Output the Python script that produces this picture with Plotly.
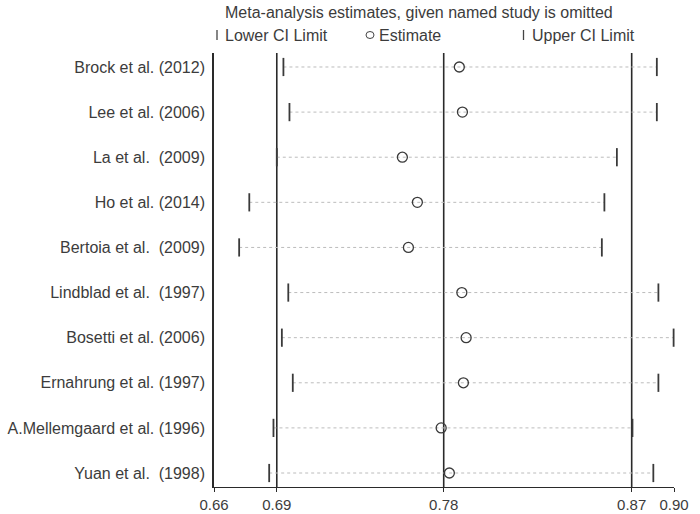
import plotly.graph_objects as go

# ---------------- data ----------------
studies = [
    "Brock et al. (2012)",
    "Lee et al. (2006)",
    "La et al.  (2009)",
    "Ho et al. (2014)",
    "Bertoia et al.  (2009)",
    "Lindblad et al.  (1997)",
    "Bosetti et al. (2006)",
    "Ernahrung et al. (1997)",
    "A.Mellemgaard et al. (1996)",
    "Yuan et al.  (1998)",
]
lower_ci = [0.6954, 0.6985, 0.6920, 0.6779, 0.6727, 0.6979, 0.6946, 0.7002, 0.6903, 0.6881]
estimate = [0.7856, 0.7872, 0.7564, 0.7641, 0.7595, 0.7869, 0.7891, 0.7877, 0.7763, 0.7805]
upper_ci = [0.8869, 0.8869, 0.8664, 0.8600, 0.8587, 0.8877, 0.8955, 0.8877, 0.8744, 0.8851]

overall_lower = 0.6920
overall_estimate = 0.7776
overall_upper = 0.8740
axis_min = 0.6598
axis_max = 0.8957

tick_values = [axis_min, overall_lower, overall_estimate, overall_upper, axis_max]
tick_labels = ["0.66", "0.69", "0.78", "0.87", "0.90"]

title_text = "Meta-analysis estimates, given named study is omitted"
legend_labels = ["Lower CI Limit", "Estimate", "Upper CI Limit"]

# ---------------- figure ----------------
FONT = "Liberation Sans, Arial, sans-serif"
W, H = 700, 514
ML, MR, MT, MB = 214, 26, 53, 27
PW, PH = W - ML - MR, H - MT - MB
TXT = "#3c3c3c"

fig = go.Figure()

# dotted connectors lower -> upper
seg_x, seg_y = [], []
for s, lo, up in zip(studies, lower_ci, upper_ci):
    seg_x += [lo, up, None]
    seg_y += [s, s, None]
fig.add_trace(go.Scatter(
    x=seg_x, y=seg_y, mode="lines",
    line=dict(color="#bcbcbc", width=1, dash="dot"),
    hoverinfo="skip", showlegend=False, cliponaxis=False,
))

fig.add_trace(go.Scatter(
    x=lower_ci, y=studies, mode="markers", name=legend_labels[0],
    marker=dict(symbol="line-ns", size=13, line=dict(color="#3a3a3a", width=1.8)),
    showlegend=False, cliponaxis=False,
))
fig.add_trace(go.Scatter(
    x=estimate, y=studies, mode="markers", name=legend_labels[1],
    marker=dict(symbol="circle-open", size=10, color="#3a3a3a", line=dict(width=1.3)),
    showlegend=False, cliponaxis=False,
))
fig.add_trace(go.Scatter(
    x=upper_ci, y=studies, mode="markers", name=legend_labels[2],
    marker=dict(symbol="line-ns", size=13, line=dict(color="#3a3a3a", width=1.8)),
    showlegend=False, cliponaxis=False,
))

# reference lines for overall estimate and CI
for v in (overall_lower, overall_estimate, overall_upper):
    fig.add_shape(type="line", xref="x", yref="paper", x0=v, x1=v, y0=0, y1=1,
                  line=dict(color="#2a2a2a", width=1.6), layer="below")

# helpers: pixel -> paper coords
def px(xp):
    return (xp - ML) / PW

def py(yp):
    return (H - MB - yp) / PH

# legend row (symbols as shapes, labels as text)
leg_y = 35
fig.add_shape(type="line", xref="paper", yref="paper", x0=px(217), x1=px(217),
              y0=py(leg_y + 5), y1=py(leg_y - 5), line=dict(color="#444", width=1.3))
fig.add_shape(type="circle", xref="paper", yref="paper", x0=px(366), x1=px(374),
              y0=py(leg_y + 3.5), y1=py(leg_y - 3.5), line=dict(color="#444", width=1))
fig.add_shape(type="line", xref="paper", yref="paper", x0=px(523.5), x1=px(523.5),
              y0=py(leg_y + 5), y1=py(leg_y - 5), line=dict(color="#444", width=1.3))
for xpos, lab in zip([223, 377, 530], legend_labels):
    fig.add_annotation(text=lab, xref="paper", yref="paper", x=px(xpos), y=py(leg_y),
                       xanchor="left", yanchor="middle", showarrow=False,
                       font=dict(family=FONT, size=16, color=TXT))

fig.add_annotation(text=title_text, xref="paper", yref="paper", x=px(419), y=py(13),
                   xanchor="center", yanchor="middle", showarrow=False,
                   font=dict(family=FONT, size=16, color=TXT))

fig.update_layout(
    width=W, height=H,
    margin=dict(l=ML, r=MR, t=MT, b=MB, pad=0, autoexpand=False),
    paper_bgcolor="white", plot_bgcolor="white",
    font=dict(family=FONT, size=16, color=TXT),
    showlegend=False,
    xaxis=dict(
        range=[axis_min, axis_max], tickvals=tick_values, ticktext=tick_labels,
        automargin=False,
        showgrid=False, zeroline=False, showline=True, linecolor="#2a2a2a", linewidth=1.3,
        ticks="outside", ticklen=4, tickcolor="#2a2a2a", tickwidth=1.3,
        tickfont=dict(family=FONT, size=15, color=TXT),
    ),
    yaxis=dict(
        type="category", categoryorder="array", categoryarray=studies,
        range=[9.31, -0.31], showgrid=False, zeroline=False, automargin=False,
        showline=True, linecolor="#2a2a2a", linewidth=1.6,
        ticks="", ticklabelstandoff=4,
        tickfont=dict(family=FONT, size=16, color=TXT),
    ),
)

# remove the default page margin so the figure sits at the window's corner
fig.write_html("out.html", config={"displayModeBar": False},
               post_script="document.body.style.margin='0px';")
